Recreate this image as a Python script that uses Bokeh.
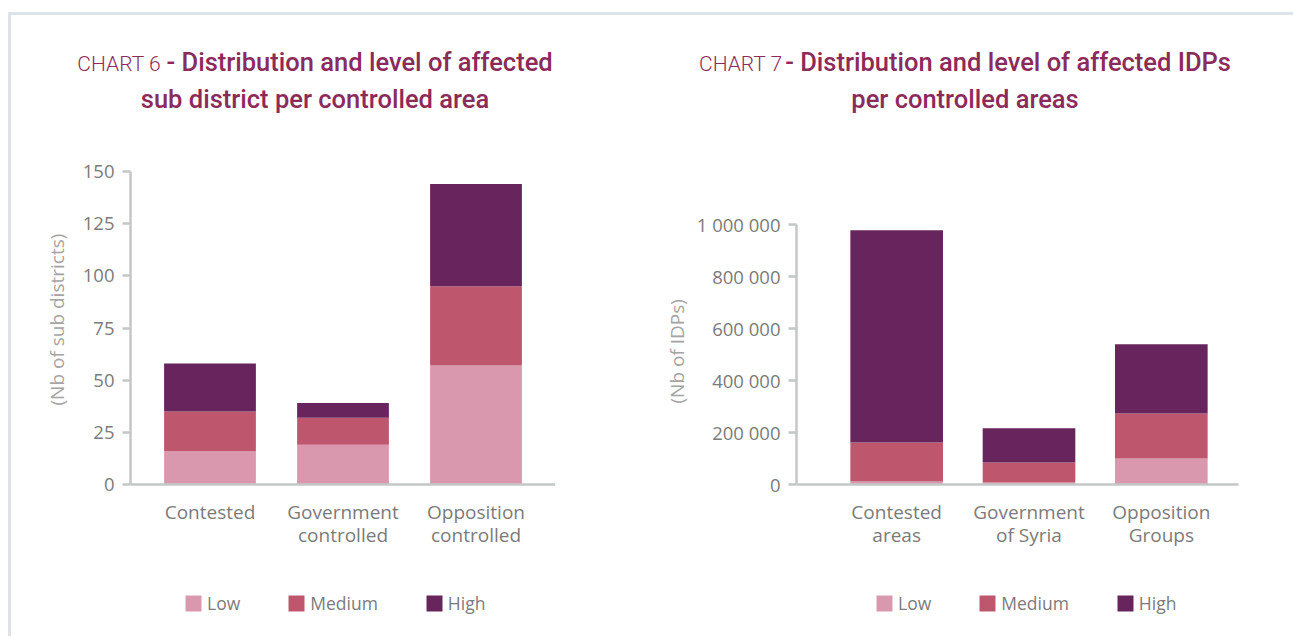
from bokeh.plotting import figure
from bokeh.models import (FactorRange, Range1d, Legend, LegendItem, Div, Title,
                          CustomJSTickFormatter, FixedTicker, ColumnDataSource)
from bokeh.layouts import row, column
from bokeh.embed import file_html
from bokeh.resources import INLINE

levels = ["Low", "Medium", "High"]
colors = ["#d998ae", "#be566e", "#67245d"]

c6_areas = ["Contested", "Government\ncontrolled", "Opposition\ncontrolled"]
c6_low = [16, 19, 57]
c6_medium = [19, 13, 38]
c6_high = [23, 7, 49]
c6_ticks = [0, 25, 50, 75, 100, 125, 150]

c7_areas = ["Contested\nareas", "Government\nof Syria", "Opposition\nGroups"]
c7_low = [12000, 8000, 100000]
c7_medium = [150000, 77000, 173000]
c7_high = [816000, 131000, 266000]
c7_ticks = [0, 200000, 400000, 600000, 800000, 1000000]

TITLE_C = "#8c2a5a"
AXIS_C = "#c4c7c7"
TICK_C = "#7b7b7b"
FONT = "Open Sans"

# layout geometry (pixels)
FRAME_BOTTOM_PAD = 141          # room under the zero line for labels + legend
C6_PLOT_H = 313                 # pixels from 0 to 150
C7_PLOT_H = 260                 # pixels from 0 to 1 000 000


def title_div(chart_no, gap, line1, line2, box_w, width):
    html = (
        f'<div style="width:{box_w}px;text-align:center;color:{TITLE_C};'
        f'font-family:Roboto, sans-serif;padding-top:29px;">'
        f'<div style="height:37px;line-height:37px;white-space:nowrap;">'
        f'<span style="font-weight:300;font-size:21px;">{chart_no}</span>{gap}'
        f'<span style="font-weight:500;font-size:25.5px;">- {line1}</span></div>'
        f'<div style="height:37px;line-height:37px;white-space:nowrap;">'
        f'<span style="font-weight:500;font-size:25.5px;">{line2}</span></div></div>'
    )
    return Div(text=html, width=width, height=120, margin=0)


def make_chart(areas, low, med, high, ticks, ymax, plot_h, frame_w, mb_left, mb_right,
               mb_top, pad, bar_w, ylabel, title_off, title_standoff, leg_x,
               xbounds, fmt=None):
    src = ColumnDataSource(dict(area=areas, Low=low, Medium=med, High=high))
    ystart = -FRAME_BOTTOM_PAD * ymax / plot_h
    p = figure(x_range=FactorRange(*areas, range_padding=pad, range_padding_units="absolute"),
               y_range=Range1d(ystart, ymax), frame_width=frame_w,
               frame_height=plot_h + FRAME_BOTTOM_PAD,
               min_border_left=mb_left, min_border_top=mb_top, min_border_right=mb_right,
               min_border_bottom=11,
               output_backend="svg", toolbar_location=None)
    rs = p.vbar_stack(levels, x="area", width=bar_w, color=colors, source=src, line_color=None)
    p.outline_line_color = None
    p.xgrid.grid_line_color = None
    p.ygrid.grid_line_color = None
    p.background_fill_color = "white"
    p.border_fill_color = "white"

    ya = p.yaxis[0]
    ya.ticker = FixedTicker(ticks=ticks)
    ya.bounds = (0, ymax)
    if fmt is not None:
        ya.formatter = fmt
    ya.axis_line_color = AXIS_C
    ya.axis_line_width = 2.5
    ya.major_tick_line_color = AXIS_C
    ya.major_tick_line_width = 2.5
    ya.major_tick_out = 8
    ya.major_tick_in = 0
    ya.minor_tick_line_color = None
    ya.major_label_text_font = FONT
    ya.major_label_text_font_size = "18.5px"
    ya.major_label_text_color = TICK_C
    ya.major_label_standoff = 8

    p.add_layout(Title(text=ylabel, align="left", offset=title_off, standoff=title_standoff,
                       text_font=FONT, text_font_size="19px", text_font_style="normal",
                       text_color="#a4a4a4"), "left")

    xa = p.xaxis[0]
    xa.fixed_location = 0
    xa.bounds = xbounds
    xa.axis_line_color = AXIS_C
    xa.axis_line_width = 2.5
    xa.major_tick_line_color = None
    xa.minor_tick_line_color = None
    xa.major_tick_out = 0
    xa.major_label_text_font = FONT
    xa.major_label_text_font_size = "19px"
    xa.major_label_text_line_height = 0.92
    xa.major_label_text_color = TICK_C
    xa.major_label_standoff = 14

    items = [LegendItem(label=lv, renderers=[r]) for lv, r in zip(levels, rs)]
    leg = Legend(items=items, orientation="horizontal", location=(leg_x, 10),
                 label_text_font=FONT, label_text_font_size="17.5px",
                 label_text_color=TICK_C, glyph_width=20, glyph_height=20,
                 spacing=46, label_standoff=4, padding=0, margin=0,
                 border_line_color=None, background_fill_alpha=0)
    p.add_layout(leg, "center")
    return p


fmt7 = CustomJSTickFormatter(code="return tick.toString().replace(/\\B(?=(\\d{3})+(?!\\d))/g, ' ');")

p6 = make_chart(c6_areas, c6_low, c6_medium, c6_high, c6_ticks, 150, C6_PLOT_H,
                425, 119, 98, 36, 0.0977, 0.69, "(Nb of sub districts)", 220, 20, 53,
                (-0.158, 3.098))
p7 = make_chart(c7_areas, c7_low, c7_medium, c7_high, c7_ticks, 1000000, C7_PLOT_H,
                465, 143, 32, 89, 0.257, 0.70, "(Nb of IDPs)", 222, 8, 78,
                (-0.317, 3.08), fmt=fmt7)

d6 = title_div("CHART 6", "&nbsp;&nbsp;", "Distribution and level of affected",
               "sub district per controlled area", 608, 642)
d7 = title_div("CHART 7", "&nbsp;", "Distribution and level of affected IDPs",
               "per controlled areas", 624, 640)

layout = row(column(d6, p6), column(d7, p7),
             styles={"border-top": "3px solid #dde3e8",
                     "border-left": "3px solid #dde3e8",
                     "margin-left": "8px", "margin-top": "12px"})

open("out.html", "w").write(file_html(layout, INLINE))
